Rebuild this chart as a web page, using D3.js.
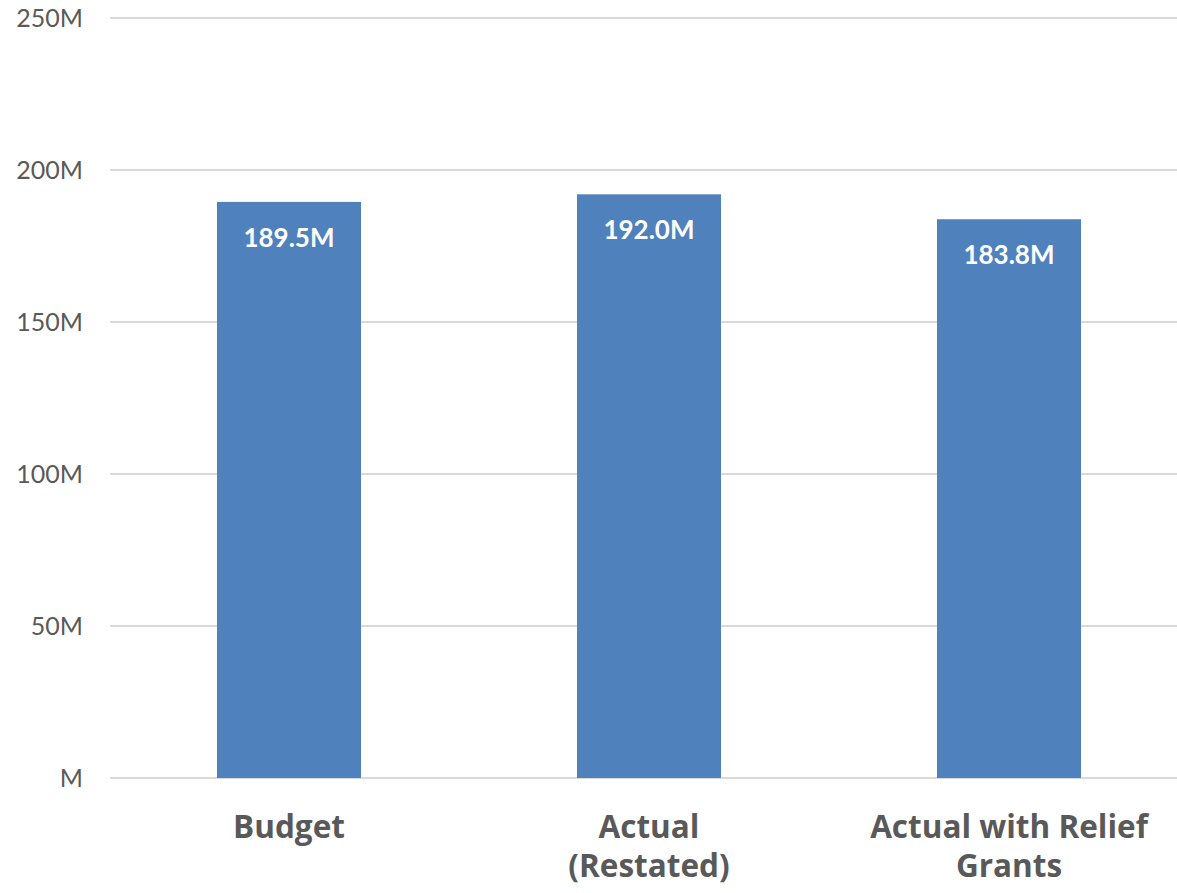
<!DOCTYPE html>
<html>
<head>
<meta charset="utf-8">
<script src="https://cdn.jsdelivr.net/npm/d3@7"></script>
<style>
body { margin: 0; background: #fff; }
</style>
</head>
<body>
<script>
// Budget vs actual

var categories = [["Budget"], ["Actual", "(Restated)"], ["Actual with Relief", "Grants"]];
var values = [189.5, 192.0, 183.8];
var valueLabels = ["189.5M", "192.0M", "183.8M"];
var tickValues = [0, 50, 100, 150, 200, 250];
var tickLabels = ["M", "50M", "100M", "150M", "200M", "250M"];

var width = 1177;
var height = 893;
var font = "Lato, 'Open Sans', sans-serif";

var svg = d3.select("body").append("svg")
    .attr("width", width)
    .attr("height", height);

var keys = categories.map(function(c) { return c.join(" "); });

var x = d3.scaleBand()
    .domain(keys)
    .range([109, 1189])
    .paddingInner(0.6)
    .paddingOuter(0.3);

var y = d3.scaleLinear()
    .domain([0, 250])
    .range([778, 18]);

// gridlines
svg.selectAll(".grid")
    .data(tickValues)
    .enter().append("line")
    .attr("x1", 110)
    .attr("x2", width)
    .attr("y1", function(d) { return y(d); })
    .attr("y2", function(d) { return y(d); })
    .attr("stroke", "#d9d9d9")
    .attr("stroke-width", 2);

// y labels
svg.selectAll(".ylab")
    .data(tickValues)
    .enter().append("text")
    .text(function(d, i) { return tickLabels[i]; })
    .attr("x", 83)
    .attr("y", function(d) { return y(d); })
    .attr("dy", "0.36em")
    .attr("text-anchor", "end")
    .style("font-family", font)
    .style("font-size", "25px")
    .attr("fill", "#595959");

// bars
svg.selectAll(".bar")
    .data(values)
    .enter().append("rect")
    .attr("x", function(d, i) { return x(keys[i]); })
    .attr("y", function(d) { return y(d); })
    .attr("width", x.bandwidth())
    .attr("height", function(d) { return y(0) - y(d); })
    .attr("fill", "#4f81bd");

// value labels
svg.selectAll(".vlab")
    .data(values)
    .enter().append("text")
    .text(function(d, i) { return valueLabels[i]; })
    .attr("x", function(d, i) { return x(keys[i]) + x.bandwidth() / 2; })
    .attr("y", function(d) { return y(d) + 45; })
    .attr("text-anchor", "middle")
    .style("font-family", font)
    .style("font-size", "26px")
    .style("font-weight", "bold")
    .attr("fill", "#ffffff");

// category labels
categories.forEach(function(lines, i) {
    var t = svg.append("text")
        .attr("text-anchor", "middle")
        .style("font-family", "'Open Sans', sans-serif")
        .style("font-size", "31.5px")
        .style("font-weight", "bold")
        .attr("fill", "#595959");
    lines.forEach(function(line, j) {
        t.append("tspan")
            .text(line)
            .attr("x", x(keys[i]) + x.bandwidth() / 2)
            .attr("y", 838 + j * 39);
    });
});
</script>
</body>
</html>
